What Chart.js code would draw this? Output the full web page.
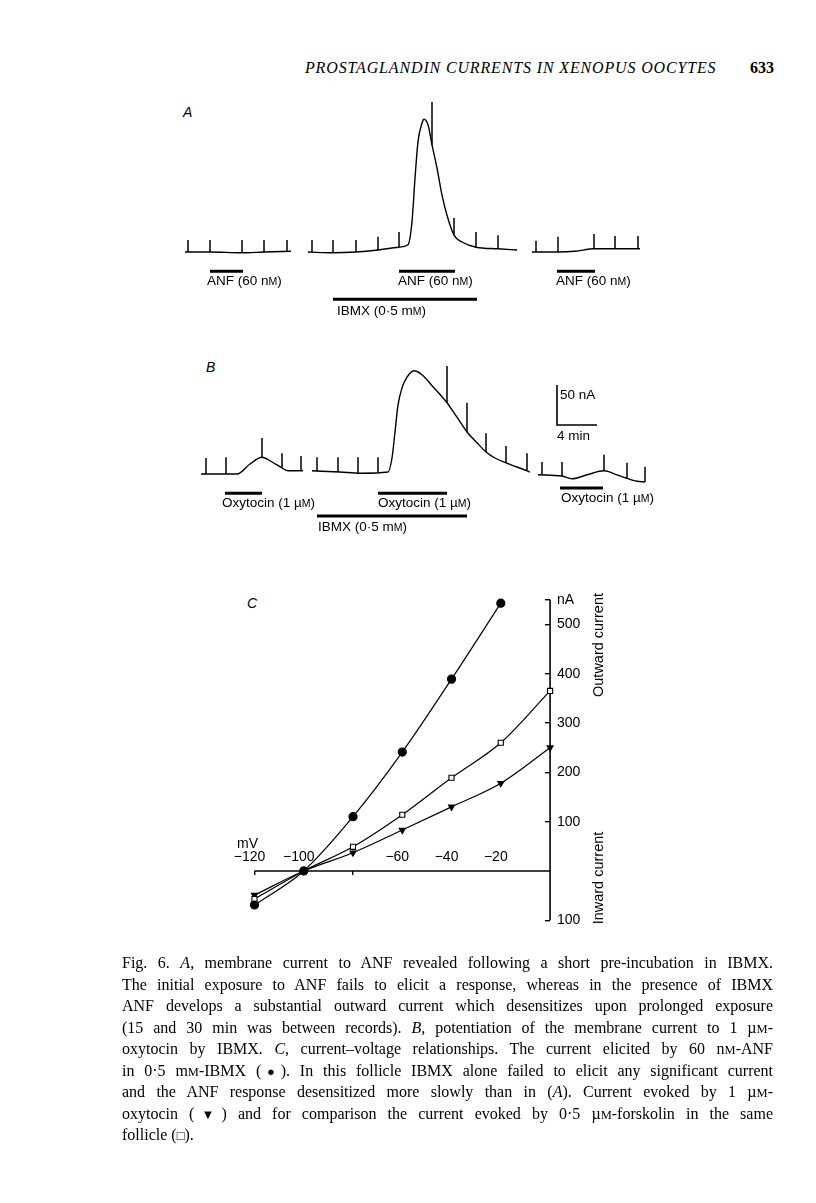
<!DOCTYPE html>
<html>
<head>
<meta charset="utf-8">
<script src="https://cdn.jsdelivr.net/npm/chart.js@4.4.0/dist/chart.umd.min.js"></script>
<style>
  body { margin: 0; background: #fff; }
  #page { position: relative; width: 816px; height: 1203px; overflow: hidden; color: #000;
          font-family: "Liberation Sans", Arial, sans-serif; }
  canvas { position: absolute; }
  .t { position: absolute; white-space: nowrap; font-size: 13.5px; line-height: 1; transform: translateY(-50%); }
  .sc { font-size: 0.78em; }
  .panel { font-style: italic; font-size: 14px; }
  .rot { position: absolute; white-space: nowrap; font-size: 14.5px; line-height: 1;
         transform: translate(-50%, -50%) rotate(-90deg); }
  .head { position: absolute; top: 68px; transform: translateY(-50%); line-height: 1;
          font-family: "Liberation Serif", "Times New Roman", serif; font-size: 16px; white-space: nowrap; }
  #caption { position: absolute; left: 122px; top: 952px; width: 651px;
             font-family: "Liberation Serif", "Times New Roman", serif; font-size: 16px; line-height: 21.5px; }
  #caption > span { display: block; height: 21.5px; text-align: justify; text-align-last: justify; }
  #caption > span.last { text-align-last: left; }
  .sym { font-size: 13px; line-height: 1; }
</style>
</head>
<body>
<div id="page">
  <div class="head" style="left:305px;font-style:italic;letter-spacing:0.85px;">PROSTAGLANDIN CURRENTS IN XENOPUS OOCYTES</div>
  <div class="head" style="left:750px;font-weight:bold;">633</div>

  <!-- panel A -->
  <div class="t panel" style="left:183px;top:112px;">A</div>
  <canvas id="chartA" width="470" height="216" style="left:180px;top:92px;width:470px;height:216px;"></canvas>
  <div class="t" style="left:207px;top:281px;">ANF (60 n<span class="sc">M</span>)</div>
  <div class="t" style="left:398px;top:281px;">ANF (60 n<span class="sc">M</span>)</div>
  <div class="t" style="left:556px;top:281px;">ANF (60 n<span class="sc">M</span>)</div>
  <div class="t" style="left:337px;top:311px;">IBMX (0·5 m<span class="sc">M</span>)</div>

  <!-- panel B -->
  <div class="t panel" style="left:206px;top:367px;">B</div>
  <canvas id="chartB" width="470" height="168" style="left:180px;top:354px;width:470px;height:168px;"></canvas>
  <div class="t" style="left:560px;top:395px;">50 nA</div>
  <div class="t" style="left:557px;top:436px;">4 min</div>
  <div class="t" style="left:222px;top:503px;">Oxytocin (1 µ<span class="sc">M</span>)</div>
  <div class="t" style="left:378px;top:503px;">Oxytocin (1 µ<span class="sc">M</span>)</div>
  <div class="t" style="left:561px;top:498px;">Oxytocin (1 µ<span class="sc">M</span>)</div>
  <div class="t" style="left:318px;top:527px;">IBMX (0·5 m<span class="sc">M</span>)</div>

  <!-- panel C -->
  <div class="t panel" style="left:247px;top:603px;">C</div>
  <canvas id="chartC" width="395" height="400" style="left:200px;top:560px;width:395px;height:400px;"></canvas>
  <div class="t" style="left:237px;top:843px;font-size:14px;">mV</div>
  <div class="rot" style="left:598px;top:645px;">Outward current</div>
  <div class="rot" style="left:598px;top:878px;">Inward current</div>

  <div id="caption">
    <span>Fig. 6. <i>A</i>, membrane current to ANF revealed following a short pre-incubation in IBMX.</span>
    <span>The initial exposure to ANF fails to elicit a response, whereas in the presence of IBMX</span>
    <span>ANF develops a substantial outward current which desensitizes upon prolonged exposure</span>
    <span>(15 and 30 min was between records). <i>B</i>, potentiation of the membrane current to 1 µ<span class="sc">M</span>-</span>
    <span>oxytocin by IBMX. <i>C</i>, current–voltage relationships. The current elicited by 60 n<span class="sc">M</span>-ANF</span>
    <span>in 0·5 m<span class="sc">M</span>-IBMX (<span class="sym">●</span>). In this follicle IBMX alone failed to elicit any significant current</span>
    <span>and the ANF response desensitized more slowly than in (<i>A</i>). Current evoked by 1 µ<span class="sc">M</span>-</span>
    <span>oxytocin (<span class="sym">▼</span>) and for comparison the current evoked by 0·5 µ<span class="sc">M</span>-forskolin in the same</span>
    <span class="last">follicle (<span class="sym">□</span>).</span>
  </div>
</div>

<script>
// ---- Panel A: ANF with / without IBMX (time in min, current in nA above holding level)
const aTime1 = [0.5, 3.0, 6.2, 8.4, 11.1];
const aCurrent1 = [0, 0, -1, 0, 1];
const aTime2 = [12.8, 15.3, 17.6, 19.8, 21.9, 22.8, 23.2, 23.5, 23.8, 24.2, 24.4, 24.8, 25.2, 25.7, 26.2, 26.7, 27.4, 28.2, 29.6, 31.8, 33.7];
const aCurrent2 = [0, -1, 0, 2.5, 6, 9, 38, 92, 138, 161, 166, 159, 134, 105, 71, 46, 21, 12.5, 6, 4, 2.5];
const aTime3 = [35.2, 37.8, 39.5, 41.4, 43.5, 46.0];
const aCurrent3 = [0, 0, 1, 4, 4, 4];
// voltage pulses (vertical deflections)
const aPulseTime = [0.8, 3.0, 6.2, 8.4, 10.7, 13.2, 15.3, 17.6, 19.8, 21.9, 25.2, 27.4, 29.6, 31.8, 35.6, 37.8, 41.4, 43.5, 45.8];
const aPulseFrom = [0, 0, -1, 0, 1, 0, -1, 0, 2.5, 6, 134, 21, 6, 4, 0, 0, 4, 4, 4];
const aPulseTo = [15, 15, 15, 15, 15, 15, 15, 15, 19, 25, 187.5, 42.5, 25, 21, 14, 19, 22.5, 20, 20];
// drug applications (min)
const aAnfOn = [3.0, 21.9, 37.7];
const aAnfOff = [6.3, 27.5, 41.5];
const aIbmxOn = [15.3];
const aIbmxOff = [29.7];

// ---- Panel B: oxytocin with / without IBMX
const bTime1 = [2.1, 5.7, 7.0, 8.2, 9.2, 10.2, 10.8, 12.3];
const bCurrent1 = [0, 0, 12.5, 21, 15, 7.5, 4, 4];
const bTime2 = [13.2, 16.0, 18.0, 20.8, 21.2, 21.5, 21.8, 22.2, 22.7, 23.4, 24.2, 25.3, 26.7, 27.7, 28.7, 29.7, 30.6, 31.5, 32.6, 34.5, 35.0];
const bCurrent2 = [4, 2.5, 1, 2.5, 20, 52.5, 86, 107.5, 121, 129, 124, 109, 89, 71, 52.5, 39, 27.5, 20, 14, 5, 2.5];
const bTime3 = [35.8, 38.2, 39.2, 40.7, 42.4, 43.7, 44.6, 45.7, 46.5];
const bCurrent3 = [-1, -2.5, -6, -1, 4, -1, -5, -9, -10];
const bPulseTime = [2.6, 4.6, 8.2, 10.2, 12.1, 13.7, 15.8, 17.8, 19.8, 26.7, 28.7, 30.6, 32.6, 34.7, 36.2, 38.2, 42.4, 44.7, 46.5];
const bPulseFrom = [0, 0, 21, 7.5, 4, 3.5, 2.5, 1, 2.5, 89, 52.5, 27.5, 14, 5, -1, -2.5, 4, -5, -10];
const bPulseTo = [20, 21, 45, 26, 22.5, 21, 21, 21, 21, 135, 89, 51, 35, 26, 15, 15, 24, 14, 9];
const bOxyOn = [4.5, 19.8, 38.0];
const bOxyOff = [8.2, 26.7, 42.3];
const bIbmxOn = [13.7];
const bIbmxOff = [28.7];
// calibration bar
const scaleCurrent = 50; // nA
const scaleTime = 4;     // min

// ---- Panel C: current-voltage relationships
const voltages = [-120, -100, -80, -60, -40, -20, 0];
const anfCurrent = [-69, 0, 110, 241, 389, 543, null];
const forskolinCurrent = [-57, 0, 49, 114, 189, 260, 365];
const oxytocinCurrent = [-49, 0, 37, 83, 130, 178, 250];
const voltageTicks = [-120, -100, -80, -60, -40, -20];
const currentTicks = [-100, 100, 200, 300, 400, 500, 550];

Chart.defaults.font.family = '"Liberation Sans", Arial, sans-serif';
Chart.defaults.color = '#000';

function pairs(xs, ys) {
    return xs.map((x, i) => ({ x: x, y: ys[i] }));
}

// vertical strokes, separated by gaps
function pulses(times, from, to) {
    const out = [];
    times.forEach((t, i) => {
        out.push({ x: t, y: from[i] }, { x: t, y: to[i] }, { x: t, y: null });
    });
    return out;
}

// horizontal bars for application periods
function bars(on, off, level) {
    const out = [];
    on.forEach((t, i) => {
        const y = Array.isArray(level) ? level[i] : level;
        out.push({ x: t, y: y }, { x: off[i], y: y }, { x: off[i], y: null });
    });
    return out;
}

function trace(data) {
    return { data: data, borderColor: '#000', borderWidth: 1.4, pointRadius: 0,
             cubicInterpolationMode: 'monotone', fill: false };
}

function strokes(data, width) {
    return { data: data, borderColor: '#000', borderWidth: width, pointRadius: 0, tension: 0, fill: false };
}

function traceOptions(yMin, yMax) {
    return {
        responsive: false,
        animation: false,
        events: [],
        layout: { padding: 0 },
        scales: {
            x: { type: 'linear', min: 0, max: 47, display: false },
            y: { type: 'linear', min: yMin, max: yMax, display: false }
        },
        plugins: { legend: { display: false }, tooltip: { enabled: false } }
    };
}

// Panel A
new Chart(document.getElementById('chartA'), {
    type: 'line',
    data: {
        datasets: [
            trace(pairs(aTime1, aCurrent1)),
            trace(pairs(aTime2, aCurrent2)),
            trace(pairs(aTime3, aCurrent3)),
            strokes(pulses(aPulseTime, aPulseFrom, aPulseTo), 1.5),
            strokes(bars(aAnfOn, aAnfOff, -24), 3),
            strokes(bars(aIbmxOn, aIbmxOff, -59), 3)
        ]
    },
    options: traceOptions(-70, 200)
});

// Panel B
const scaleCorner = { x: 37.7, y: 61.25 };
new Chart(document.getElementById('chartB'), {
    type: 'line',
    data: {
        datasets: [
            trace(pairs(bTime1, bCurrent1)),
            trace(pairs(bTime2, bCurrent2)),
            trace(pairs(bTime3, bCurrent3)),
            strokes(pulses(bPulseTime, bPulseFrom, bPulseTo), 1.5),
            strokes(bars(bOxyOn, bOxyOff, [-24, -24, -17.5]), 3),
            strokes(bars(bIbmxOn, bIbmxOff, -52.5), 3),
            strokes([
                { x: scaleCorner.x, y: scaleCorner.y + scaleCurrent },
                { x: scaleCorner.x, y: scaleCorner.y },
                { x: scaleCorner.x + scaleTime, y: scaleCorner.y }
            ], 1.6)
        ]
    },
    options: traceOptions(-60, 150)
});

// Panel C
const currentLabel = (v) => v === 550 ? 'nA' : String(Math.abs(v));
new Chart(document.getElementById('chartC'), {
    type: 'scatter',
    data: {
        datasets: [
            { label: 'ANF in IBMX', data: pairs(voltages, anfCurrent), showLine: true,
              borderColor: '#000', borderWidth: 1.2, cubicInterpolationMode: 'monotone',
              pointStyle: 'circle', pointRadius: 4, pointBackgroundColor: '#000', pointBorderColor: '#000' },
            { label: 'Forskolin', data: pairs(voltages, forskolinCurrent), showLine: true,
              borderColor: '#000', borderWidth: 1.2, cubicInterpolationMode: 'monotone',
              pointStyle: 'rect', pointRadius: 3.6, pointBackgroundColor: '#fff', pointBorderColor: '#000', pointBorderWidth: 1.1 },
            { label: 'Oxytocin', data: pairs(voltages, oxytocinCurrent), showLine: true,
              borderColor: '#000', borderWidth: 1.2, cubicInterpolationMode: 'monotone',
              pointStyle: 'triangle', rotation: 180, pointRadius: 3.4, pointBackgroundColor: '#000', pointBorderColor: '#000' },
            // axis lines
            { data: [{ x: voltageTicks[0], y: 0 }, { x: 0, y: 0 }], showLine: true,
              borderColor: '#000', borderWidth: 1.6, pointRadius: 0 },
            { data: [{ x: 0, y: currentTicks[0] }, { x: 0, y: currentTicks[currentTicks.length - 1] }], showLine: true,
              borderColor: '#000', borderWidth: 1.6, pointRadius: 0 }
        ]
    },
    options: {
        responsive: false,
        animation: false,
        events: [],
        layout: { padding: { top: 20, bottom: 20, left: 0, right: 0 } },
        clip: false,
        scales: {
            x: {
                type: 'linear', min: -140, max: 2, position: { y: 0 },
                border: { display: false },
                grid: {
                    drawOnChartArea: false, tickLength: 4, lineWidth: 1.4,
                    tickColor: (ctx) => (ctx.tick && (ctx.tick.value === -120 || ctx.tick.value === -80)) ? '#000' : 'rgba(0,0,0,0)'
                },
                ticks: {
                    padding: -26, labelOffset: -5, autoSkip: false, maxRotation: 0, font: { size: 14 }, color: '#000',
                    callback: (v) => v === -80 ? '' : '\u2212' + Math.abs(v)
                },
                afterBuildTicks: (s) => { s.ticks = voltageTicks.map((v) => ({ value: v })); }
            },
            // tick marks on the current axis (pointing left)
            y: {
                type: 'linear', min: -140, max: 590, position: { x: 0 },
                border: { display: false },
                grid: { drawOnChartArea: false, tickLength: 5, lineWidth: 1.4, tickColor: '#000' },
                ticks: { display: false, padding: 0 },
                afterBuildTicks: (s) => { s.ticks = currentTicks.map((v) => ({ value: v })); }
            },
            // labels of the current axis, to the right of it
            yLabels: {
                type: 'linear', min: -140, max: 590, position: 'right',
                border: { display: false },
                grid: { display: false, drawTicks: false },
                ticks: { padding: 2, autoSkip: false, font: { size: 14 }, color: '#000', callback: currentLabel },
                afterBuildTicks: (s) => { s.ticks = currentTicks.map((v) => ({ value: v })); },
                afterFit: (s) => { s.width = 40; }
            }
        },
        plugins: { legend: { display: false }, tooltip: { enabled: false } }
    }
});
</script>
</body>
</html>
